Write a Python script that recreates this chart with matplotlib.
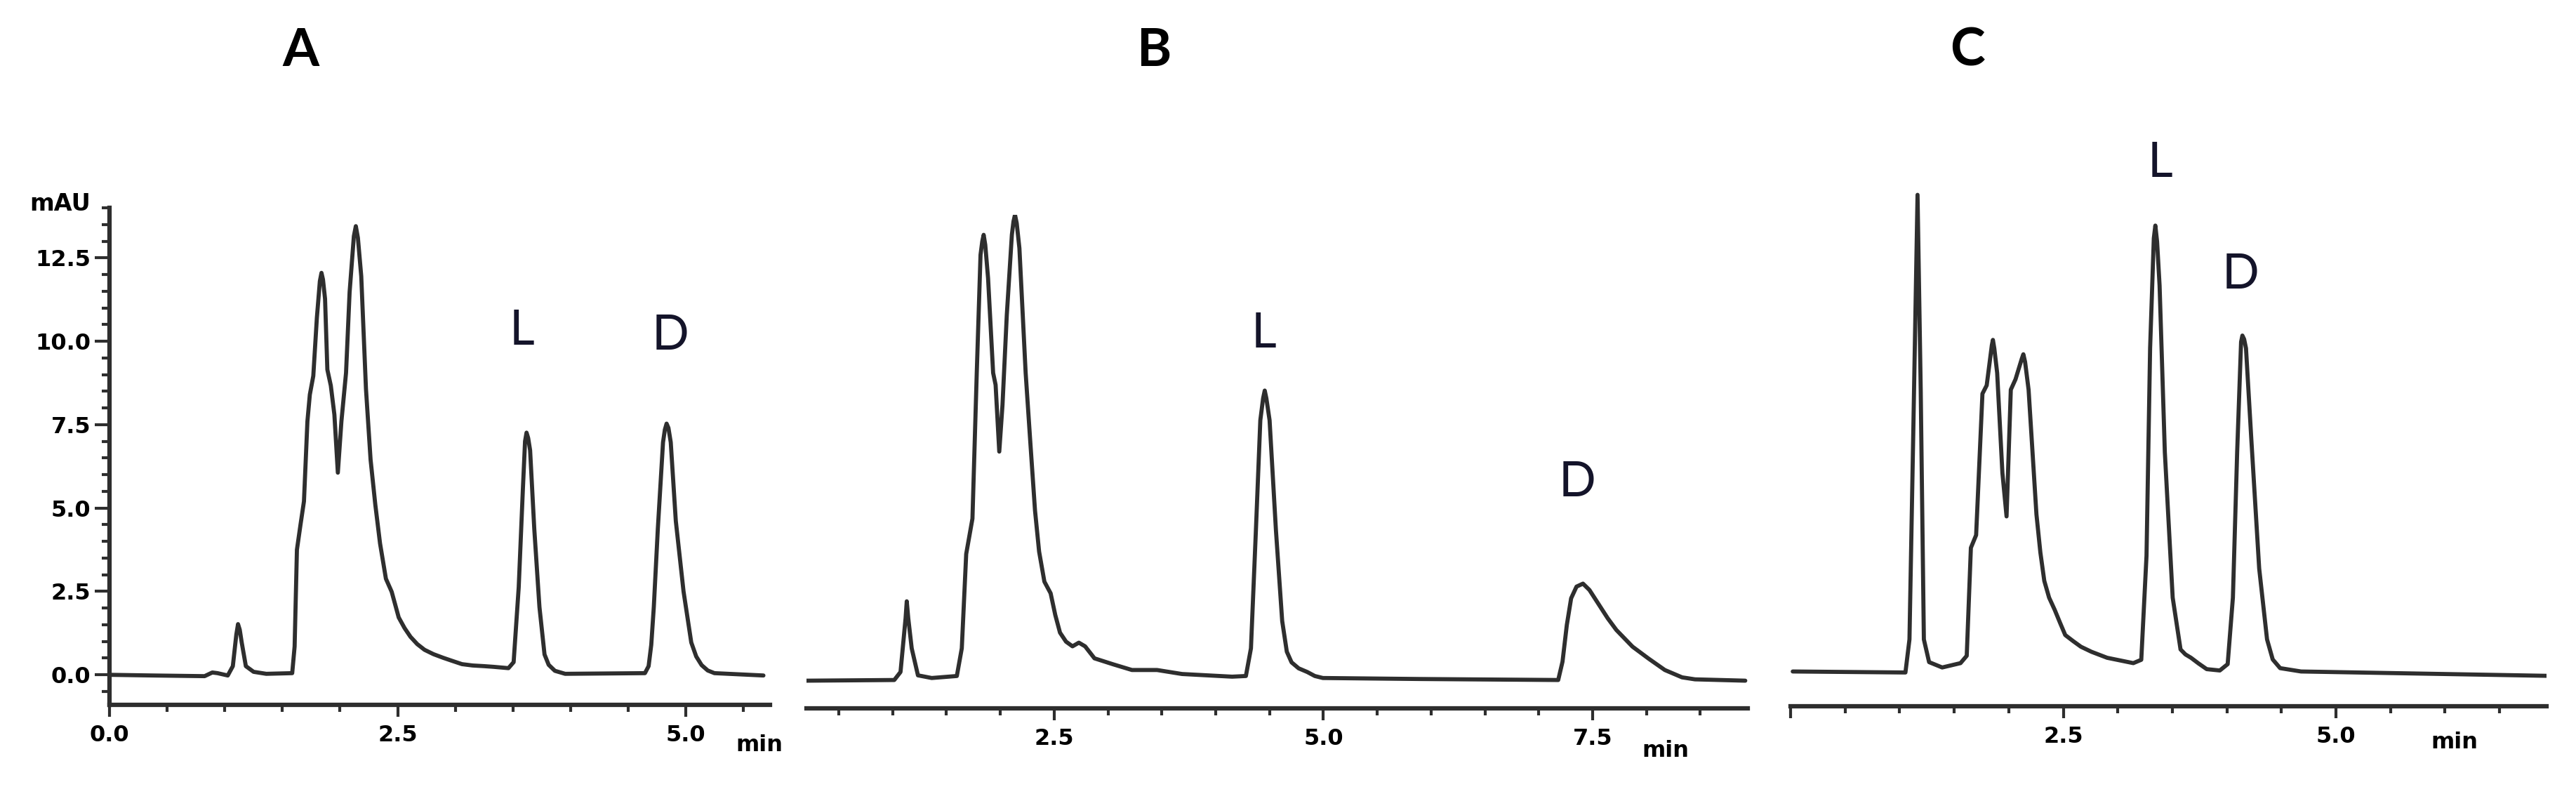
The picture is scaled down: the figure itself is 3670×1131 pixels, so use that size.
import matplotlib.pyplot as plt
from matplotlib.ticker import MultipleLocator

# cromatogramma A (min, mAU)
tempoA = [0.0, 0.378, 0.825, 0.892, 0.937, 1.026, 1.07, 1.10, 1.115, 1.13, 1.147, 1.183, 1.25, 1.36,
          1.585, 1.606, 1.626, 1.657, 1.687, 1.717, 1.738, 1.768, 1.799, 1.825, 1.839, 1.852, 1.870,
          1.890, 1.920, 1.951, 1.981, 2.012, 2.052, 2.083, 2.12, 2.137, 2.155, 2.184, 2.225, 2.265,
          2.306, 2.347, 2.398, 2.448, 2.509, 2.56, 2.611, 2.67, 2.733, 2.81, 2.895, 2.98, 3.058,
          3.15, 3.25, 3.33, 3.461, 3.506, 3.55, 3.586, 3.605, 3.618, 3.632, 3.649, 3.685, 3.73,
          3.774, 3.81, 3.864, 3.953, 4.645, 4.677, 4.70, 4.722, 4.757, 4.802, 4.818, 4.833, 4.849,
          4.869, 4.913, 4.98, 5.047, 5.09, 5.137, 5.19, 5.248, 5.673]
mauA = [0.0, -0.02, -0.04, 0.07, 0.05, -0.02, 0.26, 1.2, 1.52, 1.35, 0.97, 0.26, 0.09, 0.03,
        0.05, 0.85, 3.75, 4.5, 5.2, 7.6, 8.4, 8.96, 10.7, 11.8, 12.05, 11.85, 11.27,
        9.15, 8.67, 7.8, 6.06, 7.6, 9.05, 11.47, 13.15, 13.45, 13.1, 11.95, 8.57, 6.45,
        5.1, 3.94, 2.88, 2.49, 1.72, 1.4, 1.14, 0.92, 0.75, 0.62, 0.51, 0.41, 0.32,
        0.28, 0.26, 0.24, 0.2, 0.38, 2.62, 5.55, 7.0, 7.26, 7.1, 6.73, 4.38, 2.03,
        0.61, 0.3, 0.12, 0.03, 0.05, 0.26, 0.9, 2.03, 4.38, 6.97, 7.35, 7.53, 7.4,
        6.97, 4.61, 2.5, 0.97, 0.55, 0.29, 0.13, 0.05, -0.02]

# cromatogramma B
tempoB = [0.2, 1.015, 1.073, 1.12, 1.131, 1.145, 1.177, 1.235, 1.363, 1.596, 1.642, 1.683, 1.741,
          1.781, 1.816, 1.832, 1.845, 1.86, 1.886, 1.933, 1.956, 1.99, 2.02, 2.06, 2.107, 2.122,
          2.136, 2.152, 2.177, 2.235, 2.28, 2.322, 2.36, 2.409, 2.467, 2.51, 2.554, 2.61, 2.67,
          2.729, 2.787, 2.874, 3.048, 3.222, 3.455, 3.687, 4.152, 4.28, 4.327, 4.373, 4.414, 4.44,
          4.455, 4.47, 4.5, 4.559, 4.617, 4.66, 4.704, 4.77, 4.85, 4.92, 4.995, 5.9, 7.18,
          7.22, 7.26, 7.3, 7.35, 7.41, 7.47, 7.55, 7.64, 7.72, 7.87, 8.02, 8.17, 8.33, 8.45, 8.917]
mauB = [0.03, 0.05, 0.29, 1.9, 2.41, 1.9, 1.0, 0.19, 0.11, 0.17, 1.0, 3.83, 4.89,
        9.26, 12.8, 13.2, 13.4, 13.1, 12.1, 9.26, 8.9, 6.9, 8.3, 11.0, 13.4, 13.8,
        14.0, 13.75, 13.0, 9.26, 7.1, 5.13, 3.9, 3.0, 2.65, 2.0, 1.47, 1.2, 1.06,
        1.17, 1.06, 0.7, 0.52, 0.35, 0.35, 0.23, 0.15, 0.17, 1.0, 4.54, 7.84, 8.5,
        8.73, 8.5, 7.84, 4.54, 1.82, 0.9, 0.58, 0.4, 0.29, 0.17, 0.11, 0.08, 0.05,
        0.6, 1.7, 2.5, 2.85, 2.94, 2.75, 2.35, 1.9, 1.55, 1.05, 0.69, 0.35, 0.13, 0.07, 0.03]

# cromatogramma C
tempoC = [0.02, 1.053, 1.09, 1.125, 1.164, 1.193, 1.222, 1.27, 1.39, 1.558, 1.615, 1.653,
          1.701, 1.759, 1.798, 1.845, 1.855, 1.868, 1.894, 1.942, 1.98, 2.019, 2.062, 2.12, 2.134,
          2.15, 2.182, 2.254, 2.29, 2.326, 2.37, 2.422, 2.47, 2.518, 2.59, 2.662, 2.758, 2.902,
          3.142, 3.215, 3.263, 3.296, 3.33, 3.344, 3.36, 3.383, 3.431, 3.503, 3.575, 3.62, 3.671,
          3.74, 3.815, 3.935, 4.007, 4.055, 4.094, 4.13, 4.142, 4.158, 4.175, 4.224, 4.296,
          4.368, 4.42, 4.488, 4.68, 6.937]
mauC = [0.04, 0.01, 1.0, 7.2, 14.3, 8.5, 1.0, 0.32, 0.16, 0.29, 0.51, 3.74,
        4.12, 8.35, 8.6, 9.8, 9.96, 9.7, 8.97, 5.98, 4.68, 8.47, 8.78, 9.4, 9.53,
        9.3, 8.47, 4.74, 3.6, 2.75, 2.25, 1.88, 1.5, 1.13, 0.95, 0.78, 0.63, 0.45,
        0.29, 0.39, 3.5, 9.71, 13.0, 13.38, 12.9, 11.58, 6.6, 2.25, 0.7, 0.55, 0.45,
        0.28, 0.11, 0.07, 0.26, 2.25, 6.6, 9.9, 10.09, 9.98, 9.71, 6.98, 3.12,
        1.0, 0.4, 0.14, 0.04, -0.09]

titoli = ['A', 'B', 'C']
etichetteL = [(3.575, 10.3), (4.444, 10.44), (3.385, 15.25)]
etichetteD = [(4.866, 10.15), (7.358, 5.97), (4.125, 11.9)]

W, H = 3670, 1131
fig = plt.figure(figsize=(W / 100, H / 100), dpi=100)

def asse(x0, x1, y0, y1):
    # pixel dell'immagine -> frazioni della figura
    return fig.add_axes([x0 / W, 1 - y1 / H, (x1 - x0) / W, (y1 - y0) / H])

colore = '#2e2e2e'
tick_font = dict(fontsize=23, fontweight='bold', family='DejaVu Sans')

axA = asse(156, 1097, 296, 1004)
axB = asse(1149, 2490, 306, 1009)
axC = asse(2551, 3628, 268, 1006)

for ax, t, m in [(axA, tempoA, mauA), (axB, tempoB, mauB), (axC, tempoC, mauC)]:
    ax.plot(t, m, color=colore, lw=4.2, solid_joinstyle='round', solid_capstyle='round')

axA.set_xlim(0, 5.73)
axA.set_ylim(-0.9, 14.0)
axB.set_xlim(0.2, 8.94)
axB.set_ylim(-0.8, 14.0)
axC.set_xlim(0, 6.93)
axC.set_ylim(-1.0, 14.5)

for ax in [axA, axB, axC]:
    for s in ['top', 'right']:
        ax.spines[s].set_visible(False)
    ax.spines['bottom'].set_linewidth(4.5)
    ax.spines['bottom'].set_color(colore)
    ax.spines['left'].set_linewidth(4.5)
    ax.spines['left'].set_color(colore)
    ax.xaxis.set_major_locator(MultipleLocator(2.5))
    ax.xaxis.set_minor_locator(MultipleLocator(0.5))
    ax.tick_params(axis='x', which='major', length=12, width=3, color=colore, pad=8)
    ax.tick_params(axis='x', which='minor', length=7, width=3, color=colore)
    ax.set_facecolor('none')

axA.xaxis.set_major_formatter(lambda v, p: '%.1f' % v)
axB.xaxis.set_major_formatter(lambda v, p: '' if v < 1 else '%.1f' % v)
axC.xaxis.set_major_formatter(lambda v, p: '' if v < 1 else '%.1f' % v)
for ax in [axA, axB, axC]:
    for lab in ax.get_xticklabels():
        lab.set(**tick_font)

axA.yaxis.set_major_locator(MultipleLocator(2.5))
axA.yaxis.set_minor_locator(MultipleLocator(0.5))
axA.yaxis.set_major_formatter(lambda v, p: '%.1f' % v)
axA.tick_params(axis='y', which='major', length=15, width=3, color=colore, pad=4)
axA.tick_params(axis='y', which='minor', length=8, width=3, color=colore)
for lab in axA.get_yticklabels():
    lab.set(**tick_font)

for ax in [axB, axC]:
    ax.spines['left'].set_visible(False)
    ax.set_yticks([])

fig.text(86 / W, 1 - 290 / H, 'mAU', ha='center', va='center', fontsize=24,
         fontweight='bold', family='DejaVu Sans')
fig.text(1082 / W, 1 - 1062 / H, 'min', ha='center', va='center', **tick_font)
fig.text(2373 / W, 1 - 1069 / H, 'min', ha='center', va='center', **tick_font)
fig.text(3497 / W, 1 - 1057 / H, 'min', ha='center', va='center', **tick_font)

for x, t in zip([428, 1645, 2803], titoli):
    fig.text(x / W, 1 - 72 / H, t, ha='center', va='center', fontsize=54,
             fontweight='bold', family='Lato')

for ax, (lx, ly), (dx, dy) in zip([axA, axB, axC], etichetteL, etichetteD):
    ax.text(lx, ly, 'L', ha='center', va='center', fontsize=50, family='Lato', color='#14142a')
    ax.text(dx, dy, 'D', ha='center', va='center', fontsize=50, family='Lato', color='#14142a')

fig.savefig('out.png', dpi=100, facecolor='white')
